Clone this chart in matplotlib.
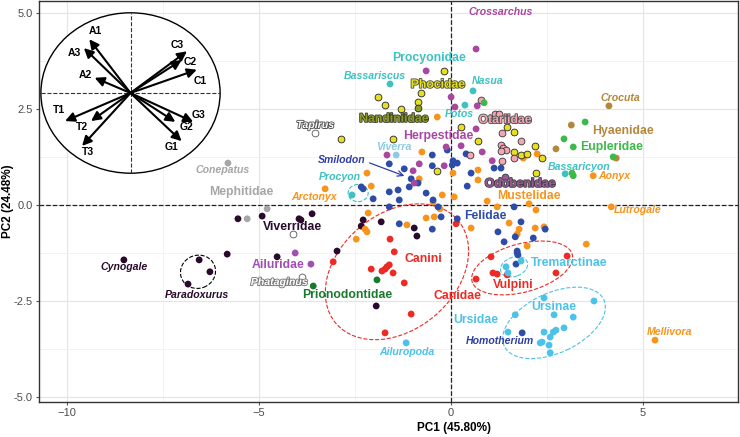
'''
PCA biplot of carnivoran skull shape, families coloured,
with a loadings circle in the top-left corner.
'''

import matplotlib
matplotlib.use('Agg')
import matplotlib.pyplot as plt
import matplotlib.patheffects as pe
from matplotlib.patches import Ellipse

plt.rcParams['font.family'] = ['Liberation Sans', 'DejaVu Sans']

# ---- scores (PC1, PC2) per family ----
viverridae_pc1 = [-5.55, -4.92, -3.96, -8.52, -6.56, -6.28, -6.85, -5.83, -4.53, -3.62,
                  -3.91, -2.29, -2.34, -1.82, -2.97, -1.95, -0.96, -0.89]
viverridae_pc2 = [-0.36, -0.29, -0.36, -1.43, -1.43, -1.74, -2.06, -1.28, -1.35, -0.23,
                  -0.39, -0.39, -0.55, -0.44, -1.20, -2.63, -0.60, -0.81]

mephitidae_pc1 = [-5.81, -4.79, -5.31]
mephitidae_pc2 = [1.09, -0.10, -0.36]

ailuridae_pc1 = [-4.06, -3.65]
ailuridae_pc2 = [-1.25, -1.54]

prionodontidae_pc1 = [-3.59, -1.93]
prionodontidae_pc2 = [-2.11, -1.95]

other_pc1 = [-3.54, -3.88, -4.11]   # Tapirus, Phataginus, unlabelled open point
other_pc2 = [1.88, -1.88, -0.76]

canidae_pc1 = [0.13, -1.59, -1.48, -3.07, -2.08, -1.80, -1.72, -1.67, -1.61, -1.51,
               -1.22, -1.04, -1.72, 0.65, 1.04, 3.02, 1.09, 1.20, 1.46, 2.73]
canidae_pc2 = [-0.49, -0.89, -1.22, -1.48, -1.67, -1.72, -1.67, -1.61, -1.56, -1.77,
               -2.03, -2.84, -3.33, -1.93, -1.35, -1.33, -1.77, -1.80, -1.82, -1.77]

felidae_pc1 = [-0.49, -0.10, 0.39, 0.05, 0.16, 0.03, -1.61, -1.22, -0.49, -1.04,
               -0.86, -1.38, -1.61, -1.09, 0.42, -0.65, -2.34, -2.29, -2.03, -1.35,
               -0.47, -0.34, -1.61, -1.35, -0.26, -0.49, 0.16, 0.52, 1.12, 1.30,
               1.64, 1.22, 1.82, 2.45, 1.38, 2.14, 1.67, 1.72, 1.72, 1.74,
               1.69, 1.85]
felidae_pc2 = [1.30, 1.43, 1.33, 1.15, 1.09, 1.04, 1.07, 0.94, 1.02, 0.68,
               0.57, 0.39, 0.34, 0.47, 0.49, 0.31, 0.47, 0.42, 0.16, 0.13,
               0.13, -0.05, -0.05, -0.49, -0.31, -0.63, -0.36, 0.83, 0.96, 0.96,
               -0.05, -0.70, -0.44, -0.63, -0.96, -0.86, -0.83, -1.20, -1.25, -1.30,
               -1.54, -3.33]

mustelidae_pc1 = [-0.36, -0.76, 0.05, 0.70, 0.70, -2.19, -2.08, -3.28, -0.83, -0.23,
                  0.08, -0.47, -0.29, 0.94, 1.20, 2.03, 2.21, 2.24, 1.88, 3.70,
                  4.17, 5.31, -0.65, -0.44, -1.15, -2.16, -2.24, -2.19, -2.47, 0.52,
                  1.51, 1.77, 1.72, 2.19, 2.42, 1.98, 3.52]
mustelidae_pc2 = [2.29, 1.38, 0.83, 0.91, 0.65, 0.83, 0.49, 0.42, 0.68, 0.26,
                  0.21, 0.08, -0.10, 0.10, -0.05, 0.03, -0.13, 1.33, 1.22, 0.76,
                  -0.05, -3.52, -0.34, -0.31, -0.52, -0.21, -0.63, -0.70, -0.89, -0.60,
                  -0.47, -0.63, -0.76, -0.60, -0.57, -1.07, -1.02]

ursidae_pc1 = [-1.17, 1.82, 1.43, 1.48, 2.42, 3.72, 1.67, 2.68, 3.18, 1.48,
               2.42, 2.94, 2.73, 2.66, 2.58, 2.32, 2.37, 2.55, 2.58]
ursidae_pc2 = [-3.59, -1.46, -1.61, -1.77, -2.42, -2.50, -2.86, -2.86, -2.92, -3.31,
               -3.31, -3.20, -3.26, -3.31, -3.44, -3.59, -3.57, -3.65, -3.85]

procyonidae_pc1 = [-1.59, 0.57, 0.36, -2.58, 2.97]
procyonidae_pc2 = [3.15, 2.97, 2.60, 0.26, 0.81]

viverra_pc1 = [-1.43]
viverra_pc2 = [1.30]

herpestidae_pc1 = [0.65, -0.65, 0.00, 0.10, 0.68, 0.65, -0.13, 0.26, -1.67, -0.83,
                   -0.18, -0.96, -0.99, 0.81, 1.07]
herpestidae_pc2 = [4.06, 3.49, 2.81, 2.55, 2.58, 1.98, 1.51, 1.54, 1.30, 1.07,
                   1.02, 0.57, 0.89, 1.38, 1.15]

phocidae_pc1 = [-0.18, -0.78, -1.90, -1.72, -1.30, -0.86, 0.26, -2.86, -1.51, 0.70,
                -0.36, 1.46, 1.64, 2.19, 1.64, 1.82, 1.98, 2.37, 2.21]
phocidae_pc2 = [3.49, 2.92, 2.81, 2.60, 2.50, 2.68, 2.03, 1.72, 1.72, 1.67,
                0.89, 2.03, 1.90, 1.54, 1.38, 1.30, 1.33, 1.22, 0.83]

nandiniidae_pc1 = [-0.86]
nandiniidae_pc2 = [2.53]

otariidae_pc1 = [0.49, 0.78, 1.15, 1.25, 1.33, 1.82, 1.30, 1.35, 1.43, 1.30, 1.33, 1.64]
otariidae_pc2 = [1.30, 2.73, 2.37, 2.37, 1.88, 1.67, 1.56, 1.48, 1.43, 1.41, 1.15, 1.22]

odobenidae_pc1 = [1.41]
odobenidae_pc2 = [0.73]

hyaenidae_pc1 = [4.11, 3.13, 2.73, 4.30]
hyaenidae_pc2 = [2.58, 2.08, 1.46, 1.22]

eupleridae_pc1 = [0.86, 3.49, 2.94, 3.18, 4.22, 3.15, 3.18]
eupleridae_pc2 = [2.66, 2.16, 1.72, 1.51, 1.25, 0.83, 0.76]

# ---- loadings for the inset circle ----
loading_names = ['A1', 'A3', 'A2', 'C3', 'C2', 'C1', 'T1', 'T2', 'T3', 'G3', 'G2', 'G1']
loading_pc1 = [-0.46, -0.52, -0.40, 0.63, 0.57, 0.74, -0.73, -0.44, -0.54, 0.70, 0.50, 0.57]
loading_pc2 = [0.67, 0.56, 0.19, 0.52, 0.41, 0.29, -0.35, -0.35, -0.66, -0.36, -0.36, -0.60]
loading_label_x = [-0.39, -0.63, -0.50, 0.52, 0.67, 0.78, -0.80, -0.54, -0.47, 0.76, 0.63, 0.46]
loading_label_y = [0.77, 0.50, 0.22, 0.60, 0.39, 0.15, -0.21, -0.43, -0.73, -0.27, -0.43, -0.67]

C = {
    'viv': '#2a0a2c', 'mep': '#a6a6a6', 'ail': '#a04fb5', 'pri': '#187a2f',
    'can': '#ee2a24', 'fel': '#2d4ca8', 'mus': '#f7941d', 'urs': '#4cc2e8',
    'pro': '#3ec1c1', 'vra': '#8ccbe6', 'her': '#a8479f', 'pho': '#e6e01e',
    'nan': '#8c9b22', 'ota': '#f2a5b5', 'odo': '#9b5b9b', 'hya': '#b4883b',
    'eup': '#3db84a', 'ext': '#2d3fa5',
}

# (text, x, y, colour, italic, outline colour or None)
labels = [
    ('Crossarchus', 1.28, 5.03, C['her'], True, None),
    ('Procyonidae', -0.57, 3.83, C['pro'], False, None),
    ('Bassariscus', -1.98, 3.36, C['pro'], True, None),
    ('Phocidae', -0.34, 3.13, C['pho'], False, '#555533'),
    ('Nasua', 0.94, 3.23, C['pro'], True, None),
    ('Nandiniidae', -1.48, 2.24, C['nan'], False, '#444433'),
    ('Potos', 0.21, 2.37, C['pro'], True, None),
    ('Otariidae', 1.41, 2.21, C['ota'], False, '#555555'),
    ('Herpestidae', -0.34, 1.80, C['her'], False, None),
    ('Tapirus', -3.54, 2.08, 'white', True, '#555555'),
    ('Viverra', -1.48, 1.51, C['vra'], True, None),
    ('Smilodon', -2.86, 1.17, C['ext'], True, None),
    ('Conepatus', -5.94, 0.91, C['mep'], True, None),
    ('Procyon', -2.89, 0.73, C['pro'], True, None),
    ('Mephitidae', -5.47, 0.34, C['mep'], False, None),
    ('Arctonyx', -3.57, 0.21, C['mus'], True, None),
    ('Viverridae', -4.14, -0.57, C['viv'], False, None),
    ('Ailuridae', -4.51, -1.56, C['ail'], False, None),
    ('Phataginus', -4.48, -2.01, 'white', True, '#777777'),
    ('Prionodontidae', -2.71, -2.34, C['pri'], False, None),
    ('Cynogale', -8.52, -1.61, C['viv'], True, None),
    ('Paradoxurus', -6.61, -2.34, C['viv'], True, None),
    ('Canini', -0.73, -1.41, C['can'], False, None),
    ('Canidae', 0.16, -2.37, C['can'], False, None),
    ('Felidae', 0.89, -0.29, C['fel'], False, None),
    ('Odobenidae', 1.80, 0.55, C['odo'], False, '#444444'),
    ('Mustelidae', 2.03, 0.23, C['mus'], False, None),
    ('Hyaenidae', 4.48, 1.93, C['hya'], False, None),
    ('Eupleridae', 4.17, 1.51, C['eup'], False, None),
    ('Crocuta', 4.40, 2.79, C['hya'], True, None),
    ('Bassaricyon', 3.33, 0.99, C['pro'], True, None),
    ('Aonyx', 4.24, 0.76, C['mus'], True, None),
    ('Lutrogale', 4.87, -0.13, C['mus'], True, None),
    ('Tremarctinae', 3.07, -1.51, C['urs'], False, None),
    ('Vulpini', 1.61, -2.08, C['can'], False, None),
    ('Ursinae', 2.66, -2.66, C['urs'], False, None),
    ('Ursidae', 0.65, -2.99, C['urs'], False, None),
    ('Homotherium', 1.28, -3.54, C['ext'], True, None),
    ('Mellivora', 5.70, -3.31, C['mus'], True, None),
    ('Ailuropoda', -1.15, -3.83, C['urs'], True, None),
]

# (centre x, centre y, width, height, angle, colour)
ellipses = [
    (-1.41, -1.74, 4.16, 3.02, 40, C['can']),
    (1.85, -1.64, 2.70, 1.26, 15, C['can']),
    (1.64, -1.61, 0.73, 0.50, 20, C['urs']),
    (2.68, -3.07, 2.86, 1.56, 25, C['urs']),
    (-2.42, 0.31, 0.52, 0.45, 0, C['pro']),
    (-6.59, -1.74, 0.92, 0.86, 20, 'black'),
]


def draw_points(ax):
    '''
    Scatter every family in its own colour.
    '''
    groups = [
        (viverridae_pc1, viverridae_pc2, C['viv'], 'none'),
        (mephitidae_pc1, mephitidae_pc2, C['mep'], 'none'),
        (ailuridae_pc1, ailuridae_pc2, C['ail'], 'none'),
        (prionodontidae_pc1, prionodontidae_pc2, C['pri'], 'none'),
        (other_pc1, other_pc2, 'white', '#555555'),
        (mustelidae_pc1, mustelidae_pc2, C['mus'], 'none'),
        (canidae_pc1, canidae_pc2, C['can'], 'none'),
        (felidae_pc1, felidae_pc2, C['fel'], 'none'),
        (ursidae_pc1, ursidae_pc2, C['urs'], 'none'),
        (procyonidae_pc1, procyonidae_pc2, C['pro'], 'none'),
        (viverra_pc1, viverra_pc2, C['vra'], 'none'),
        (herpestidae_pc1, herpestidae_pc2, C['her'], 'none'),
        (phocidae_pc1, phocidae_pc2, C['pho'], '#222222'),
        (nandiniidae_pc1, nandiniidae_pc2, C['nan'], '#222222'),
        (otariidae_pc1, otariidae_pc2, C['ota'], '#333333'),
        (odobenidae_pc1, odobenidae_pc2, C['odo'], '#333333'),
        (hyaenidae_pc1, hyaenidae_pc2, C['hya'], 'none'),
        (eupleridae_pc1, eupleridae_pc2, C['eup'], 'none'),
    ]
    for x, y, col, edge in groups:
        ax.scatter(x, y, s=24, c=col, edgecolors=edge, linewidths=0.6, zorder=3)


def draw_labels(ax):
    for text, x, y, col, italic, outline in labels:
        t = ax.text(x, y, text, color=col, ha='center', va='center',
                    fontsize=7.6 if italic else 8.8, fontweight='bold',
                    style='italic' if italic else 'normal', zorder=5)
        if outline:
            t.set_path_effects([pe.withStroke(linewidth=1.3, foreground=outline)])
    ax.annotate('', xy=(-1.15, 0.73), xytext=(-2.19, 1.12),
                arrowprops=dict(arrowstyle='->', color=C['ext'], lw=0.9), zorder=5)


def draw_inset(fig):
    '''
    Loadings circle.
    '''
    ins = fig.add_axes([40 / 740, 1 - 174 / 437, 181 / 740, 162 / 437])
    ins.set_xlim(-1.01, 1.01)
    ins.set_ylim(-1.01, 1.01)
    ins.axis('off')
    ins.add_patch(Ellipse((0, 0), 2, 2, facecolor='white', edgecolor='black', lw=1.0))
    ins.plot([-1, 1], [0, 0], ls='--', color='#333333', lw=0.8)
    ins.plot([0, 0], [-1, 1], ls='--', color='#333333', lw=0.8)
    for name, dx, dy, lx, ly in zip(loading_names, loading_pc1, loading_pc2,
                                    loading_label_x, loading_label_y):
        ins.annotate('', xy=(dx, dy), xytext=(0, 0),
                     arrowprops=dict(arrowstyle='-|>', color='black', lw=1.5,
                                     mutation_scale=14, shrinkA=0, shrinkB=0))
        ins.text(lx, ly, name, fontsize=7.5, fontweight='bold', ha='center', va='center')


fig = plt.figure(figsize=(7.4, 4.37), dpi=100)
ax = fig.add_axes([39 / 740, 1 - 402 / 437, 699 / 740, 401 / 437])

ax.set_xlim(-10.73, 7.47)
ax.set_ylim(-5.13, 5.31)
ax.set_xticks([-10, -5, 0, 5])
ax.set_yticks([-5.0, -2.5, 0.0, 2.5, 5.0])
ax.set_yticklabels(['-5.0', '-2.5', '0.0', '2.5', '5.0'])
ax.set_xticks([-7.5, -2.5, 2.5], minor=True)
ax.set_yticks([-3.75, -1.25, 1.25, 3.75], minor=True)
ax.grid(True, which='major', color='#e4e4e4', lw=0.8, zorder=0)
ax.grid(True, which='minor', color='#eeeeee', lw=0.5, zorder=0)
ax.set_axisbelow(True)
ax.tick_params(which='major', colors='#555555', labelsize=8, length=2.5, pad=2,
               labelcolor='#4d4d4d')
ax.tick_params(which='minor', length=0)
for s in ax.spines.values():
    s.set_color('#333333')
    s.set_linewidth(1.0)

ax.axhline(0, color='#222222', ls='--', lw=0.9, zorder=1)
ax.axvline(0, color='#222222', ls='--', lw=0.9, zorder=1)

for cx, cy, w, h, ang, col in ellipses:
    ax.add_patch(Ellipse((cx, cy), w, h, angle=ang, fill=False, edgecolor=col,
                         ls='--', lw=0.8, zorder=2))

draw_points(ax)
draw_labels(ax)

ax.set_xlabel('PC1 (45.80%)', fontsize=8.5, fontweight='bold')
ax.set_ylabel('PC2 (24.48%)', fontsize=8.5, fontweight='bold')
ax.xaxis.set_label_coords(0.594, -0.05)
ax.yaxis.set_label_coords(-0.036, 0.5)

draw_inset(fig)

fig.savefig('out.png', dpi=100)
